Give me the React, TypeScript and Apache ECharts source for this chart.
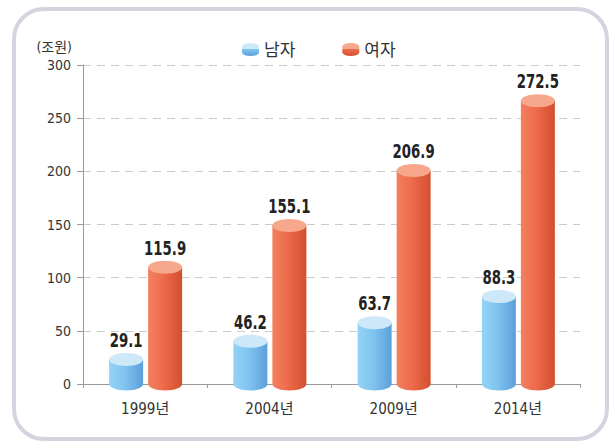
import React, { useEffect, useRef } from "react";
import * as echarts from "echarts";

const categories = ["1999년", "2004년", "2009년", "2014년"];
const maleValues = [29.1, 46.2, 63.7, 88.3];
const femaleValues = [115.9, 155.1, 206.9, 272.5];
const seriesNames = ["남자", "여자"];
const yUnit = "(조원)";

const FONT = "'DejaVu Sans Condensed', 'Noto Sans CJK KR', sans-serif";

const palettes = [
  {
    top: "#cde8f9",
    body: [
      { offset: 0, color: "#94d3f6" },
      { offset: 0.45, color: "#80c4f0" },
      { offset: 1, color: "#5c9fdb" },
    ],
    legend: "#7cc0ee",
  },
  {
    top: "#f7a88c",
    body: [
      { offset: 0, color: "#f3805f" },
      { offset: 0.45, color: "#ed6b4b" },
      { offset: 1, color: "#d2502e" },
    ],
    legend: "#ea6847",
  },
];

function makeSeries(idx: number, data: number[], offset: number) {
  const pal = palettes[idx];
  return {
    type: "custom",
    name: seriesNames[idx],
    z: 3,
    itemStyle: { color: pal.legend },
    data: data.map((v, i) => [i, v]),
    renderItem: (params: any, api: any) => {
      const cat = api.value(0);
      const val = api.value(1);
      const pt = api.coord([cat, val]);
      const base = api.coord([cat, 0]);
      const w = 34;
      const rx = w / 2;
      const ry = 6.5;
      const cx = pt[0] + offset;
      const topCy = pt[1] + ry;
      const grad = new echarts.graphic.LinearGradient(0, 0, 1, 0, pal.body);
      return {
        type: "group",
        children: [
          {
            type: "ellipse",
            shape: { cx, cy: base[1], rx, ry },
            style: { fill: grad },
          },
          {
            type: "rect",
            shape: { x: cx - rx, y: topCy, width: w, height: base[1] - topCy },
            style: { fill: grad },
          },
          {
            type: "ellipse",
            shape: { cx, cy: topCy, rx, ry },
            style: { fill: pal.top },
          },
          {
            type: "text",
            x: cx,
            y: pt[1] - 3,
            scaleX: 0.74,
            scaleY: 1,
            style: {
              text: String(val),
              x: 0,
              y: 0,
              align: "center",
              verticalAlign: "bottom",
              fill: "#222",
              font: `bold 20px ${FONT}`,
            },
          },
        ],
      };
    },
  };
}

const cylPath =
  "path://M0,3.5 A8.5,3.5 0 0 1 17,3.5 L17,9.5 A8.5,3.5 0 0 1 0,9.5 Z";

function legendColor(idx: number) {
  const pal = palettes[idx];
  return new echarts.graphic.LinearGradient(0, 0, 0, 1, [
    { offset: 0, color: pal.top },
    { offset: 0.45, color: pal.top },
    { offset: 0.5, color: pal.body[1].color },
    { offset: 1, color: pal.body[2].color },
  ]);
}

export default function App() {
  const ref = useRef<HTMLDivElement>(null);
  useEffect(() => {
    if (!ref.current) return;
    const chart = echarts.init(ref.current, null, { renderer: "svg" });
    chart.setOption({
      animation: false,
      backgroundColor: "#ffffff",
      graphic: [
        {
          type: "rect",
          z: -10,
          shape: { x: 14, y: 9, width: 593, height: 430, r: 30 },
          style: { fill: "#ffffff", stroke: "#d4d4e0", lineWidth: 4 },
        },
        {
          type: "text",
          x: 72,
          y: 47,
          style: {
            text: yUnit,
            align: "right",
            verticalAlign: "middle",
            fill: "#333",
            font: `14px ${FONT}`,
          },
        },
      ],
      legend: {
        left: 237,
        top: 36,
        itemWidth: 17,
        itemHeight: 13,
        itemGap: 47,
        icon: cylPath,
        textStyle: { fontSize: 17, color: "#333", fontFamily: FONT },
        data: seriesNames.map((n, i) => ({
          name: n,
          itemStyle: { color: legendColor(i) },
        })),
      },
      grid: { left: 83, right: 31, top: 65, bottom: 60, containLabel: false },
      xAxis: {
        type: "category",
        data: categories,
        boundaryGap: true,
        axisLine: { lineStyle: { color: "#999", width: 1 } },
        axisTick: { show: true, length: 4, lineStyle: { color: "#999" } },
        axisLabel: {
          margin: 17,
          fontSize: 15,
          color: "#333",
          fontFamily: FONT,
        },
      },
      yAxis: {
        type: "value",
        min: 0,
        max: 300,
        interval: 50,
        axisLine: { show: true, lineStyle: { color: "#999", width: 1 } },
        axisTick: { show: true, length: 6, lineStyle: { color: "#999" } },
        axisLabel: {
          margin: 12,
          fontSize: 14,
          color: "#333",
          fontFamily: FONT,
        },
        splitLine: {
          show: true,
          lineStyle: { color: "#cccccc", type: [8, 6], width: 1 },
        },
      },
      series: [makeSeries(0, maleValues, -19), makeSeries(1, femaleValues, 20)],
    });
    return () => chart.dispose();
  }, []);
  return (
    <div
      ref={ref}
      style={{ position: "fixed", left: 0, top: 0, width: 611, height: 444 }}
    />
  );
}
